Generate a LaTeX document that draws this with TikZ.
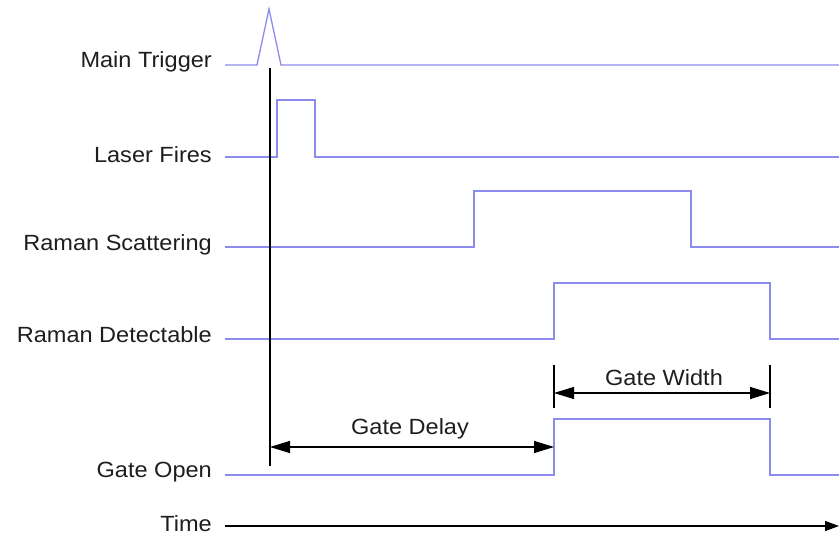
\documentclass[tikz,border=0pt]{standalone}
\usepackage{fontspec}
\setmainfont[FakeStretch=1.07]{Liberation Sans}
\usetikzlibrary{arrows.meta}
\definecolor{sigc}{RGB}{140,140,238}
\definecolor{txtc}{RGB}{30,30,30}
\begin{document}
\begin{tikzpicture}[x=1pt,y=-1pt,
  sig/.style={draw=sigc, line width=1.3pt},
  lbl/.style={anchor=east, text=txtc, font=\fontsize{22}{26}\selectfont, inner sep=0pt},
  dlbl/.style={text=txtc, font=\fontsize{22}{26}\selectfont, inner sep=0pt},
  dimline/.style={draw=black, line width=1.1pt},
  dimarrow/.style={draw=black, line width=1.1pt, {Triangle[length=20pt,width=12pt]}-{Triangle[length=20pt,width=12pt]}},
  timearrow/.style={draw=black, line width=1.1pt, -{Triangle[length=14pt,width=10pt]}}]
\useasboundingbox (0,0) rectangle (839,538);
\fill[white] (0,0) rectangle (839,538);
% labels
\node[lbl] (lmt) at (212,62) {Main Trigger};
\node[lbl] (llf) at (212,155) {Laser Fires};
\node[lbl] (lrs) at (212,245) {Raman Scattering};
\node[lbl] (lrd) at (212,335) {Raman Detectable};
\node[lbl] (lgo) at (212,472) {Gate Open};
\node[lbl] (ltm) at (212,524) {Time};
% signals
\draw[sig] (225,65) -- (257,65) -- (269,9) -- (281,65) -- (839,65);
\draw[sig] (225,157) -- (277,157) -- (277,100) -- (315,100) -- (315,157) -- (839,157);
\draw[sig] (225,247) -- (474,247) -- (474,191) -- (691,191) -- (691,247) -- (839,247);
\draw[sig] (225,339) -- (554,339) -- (554,283) -- (770,283) -- (770,339) -- (839,339);
\draw[sig] (225,475) -- (554,475) -- (554,419) -- (770,419) -- (770,475) -- (839,475);
% reference coordinates
\coordinate (trigTop) at (270,68);
\coordinate (trigBot) at (270,466);
\coordinate (gdL) at (270,447);
\coordinate (gdR) at (554,447);
\coordinate (gwLt) at (554,365);
\coordinate (gwLb) at (554,408);
\coordinate (gwRt) at (770,365);
\coordinate (gwRb) at (770,408);
\coordinate (gwL) at (554,393);
\coordinate (gwR) at (770,393);
\coordinate (tmL) at (225,526);
\coordinate (tmR) at (839,526);
% dimension lines
\draw[dimline] (trigTop) -- (trigBot);
\draw[dimarrow] (gdL) -- (gdR);
\node[dlbl] (gdl) at (410,429) {Gate Delay};
\draw[dimline] (gwLt) -- (gwLb);
\draw[dimline] (gwRt) -- (gwRb);
\draw[dimarrow] (gwL) -- (gwR);
\node[dlbl] (gwl) at (664,378) {Gate Width};
\draw[timearrow] (tmL) -- (tmR);
\end{tikzpicture}
\end{document}
